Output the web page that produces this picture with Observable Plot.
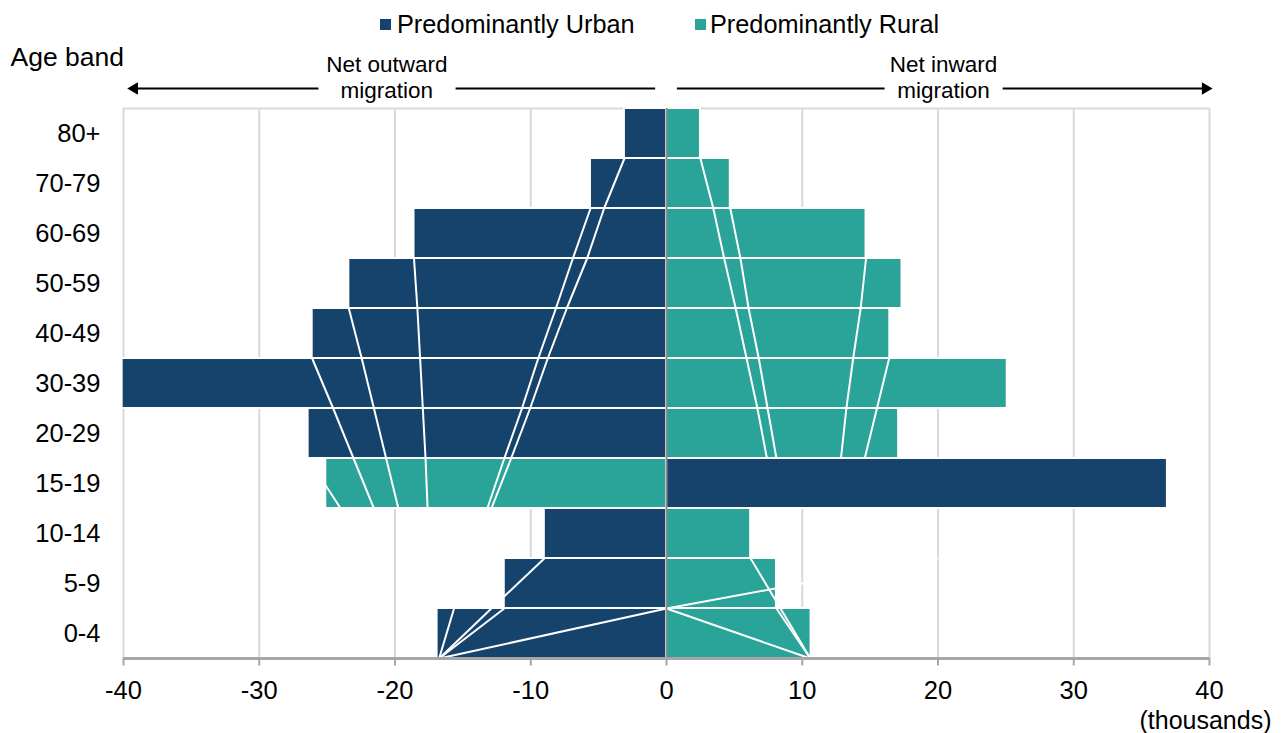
<!DOCTYPE html>
<html>
<head>
<meta charset="utf-8">
<script src="https://cdn.jsdelivr.net/npm/d3@7"></script>
<script src="https://cdn.jsdelivr.net/npm/@observablehq/plot@0.6"></script>
<style>
  html, body { margin: 0; padding: 0; background: #ffffff; }
  #wrap { width: 1282px; font-family: "Liberation Sans", Arial, sans-serif; color: #000; }
  #legend { position: relative; height: 48px; font-size: 25.3px; }
  #legend .sw { position: absolute; top: 19px; width: 11px; height: 11px; }
  #legend .lt { position: absolute; top: 10px; line-height: 28px; white-space: nowrap; }
  svg { display: block; }
</style>
</head>
<body>
<div id="wrap">
  <div id="legend"></div>
  <div id="chart"></div>
</div>
<script>
// ---- data (thousands, net migration) ----
const ageBands = ["80+", "70-79", "60-69", "50-59", "40-49", "30-39", "20-29", "15-19", "10-14", "5-9", "0-4"];
const urbanNet = [-3.1, -5.6, -18.6, -23.4, -26.1, -40.1, -26.4, 36.9, -9.0, -11.95, -16.9];
const ruralNet = [2.5, 4.7, 14.7, 17.35, 16.45, 25.1, 17.1, -25.1, 6.2, 8.1, 10.65];
const xTicks = [-40, -30, -20, -10, 0, 10, 20, 30, 40];
const seriesNames = ["Predominantly Urban", "Predominantly Rural"];
const seriesColors = ["#15436c", "#2aa398"];

// series lines (start boundary index, values at consecutive band boundaries)
const seriesLinesOut = [
  [1, [-3.1, -4.6, -5.85, -7.35, -8.75, -10.05, -11.45, -12.9]],
  [2, [-5.6, -6.9, -8.15, -9.45, -10.65, -11.95, -13.2]],
  [3, [-18.6, -18.35, -18.15, -17.95, -17.75, -17.6]],
  [4, [-23.4, -22.45, -21.55, -20.65, -19.75]],
  [5, [-26.1, -24.55, -23.05, -21.55]],
  [7, [-26.4, -24.0]],
  [9, [-9.0, -12.9, -16.75]],
  [10, [-11.95, -16.75]],
  [10, [-15.65, -16.75]],
  [10, [0, -16.75]]
];
const seriesLinesIn = [
  [1, [2.5, 3.45, 4.25, 5.1, 5.9, 6.7, 7.4]],
  [2, [4.7, 5.45, 6.05, 6.8, 7.45, 8.1]],
  [3, [14.7, 14.3, 13.75, 13.25, 12.85]],
  [4, [17.35, 16.4, 15.5, 14.6]],
  [9, [6.2, 8.4, 10.6]],
  [10, [8.1, 10.6]],
  [10, [0, 10.6]],
  [9, [20, 0]]
];

// annotation arrows
const outwardLabel = "Net outward\nmigration";
const inwardLabel = "Net inward\nmigration";

// ---- build tables ----
const rows = ageBands.map((band, i) => ({band, i, urban: urbanNet[i], rural: ruralNet[i]}));
function toSegments(lines) {
  const out = [];
  for (const [start, vals] of lines) {
    for (let k = 0; k < vals.length - 1; k++) {
      out.push({x1: vals[k], y1: start + k, x2: vals[k + 1], y2: start + k + 1});
    }
  }
  return out;
}
const segments = toSegments(seriesLinesOut).concat(toSegments(seriesLinesIn));

// ---- legend ----
const legend = document.getElementById("legend");
const legendPos = [[380, 397], [695, 710]];
seriesNames.forEach((name, k) => {
  const sw = document.createElement("span");
  sw.className = "sw";
  sw.style.left = legendPos[k][0] + "px";
  sw.style.background = seriesColors[k];
  legend.appendChild(sw);
  const t = document.createElement("span");
  t.className = "lt";
  t.style.left = legendPos[k][1] + "px";
  t.textContent = name;
  legend.appendChild(t);
});

// ---- chart ----
const arrowY = -0.4;
const chart = Plot.plot({
  width: 1282,
  height: 685,
  marginLeft: 123,
  marginRight: 73,
  marginTop: 60,
  marginBottom: 75,
  x: {domain: [-40, 40], axis: null},
  y: {domain: [11, 0], axis: null},
  style: {fontFamily: "'Liberation Sans', Arial, sans-serif", fontSize: "25.5px", color: "#000", background: "#fff", overflow: "visible"},
  marks: [
    // gridlines and top border
    Plot.ruleX(xTicks, {x: d => d, y1: 0, y2: 11, stroke: "#d9d9d9", strokeWidth: 2, strokeOpacity: 1}),
    Plot.ruleY([0], {x1: -40, x2: 40, stroke: "#d9d9d9", strokeWidth: 2, strokeOpacity: 1}),
    // bars
    Plot.rect(rows, {x1: 0, x2: "urban", y1: "i", y2: d => d.i + 1, fill: seriesColors[0], stroke: "#ffffff", strokeWidth: 2}),
    Plot.rect(rows, {x1: 0, x2: "rural", y1: "i", y2: d => d.i + 1, fill: seriesColors[1], stroke: "#ffffff", strokeWidth: 2}),
    // series lines
    Plot.link(segments, {x1: "x1", y1: "y1", x2: "x2", y2: "y2", stroke: "#ffffff", strokeWidth: 2, strokeOpacity: 1}),
    // zero line
    Plot.ruleX([0], {x: d => d, y1: 0, y2: 11, stroke: "#8c8c8c", strokeWidth: 2, strokeOpacity: 1}),
    // x axis line + ticks
    Plot.ruleY([11], {x1: -40, x2: 40, stroke: "#a6a6a6", strokeWidth: 3, strokeOpacity: 1}),
    Plot.ruleX(xTicks, {x: d => d, y1: 11, y2: 11.15, stroke: "#a6a6a6", strokeWidth: 2, strokeOpacity: 1}),
    Plot.text(xTicks, {x: d => d, y: 11, dy: 32, text: d => String(d), fill: "#000"}),
    Plot.text(["(thousands)"], {x: 40, y: 11, dx: 62, dy: 62, text: d => d, textAnchor: "end", fontSize: 25, fill: "#000"}),
    // y labels
    Plot.text(rows, {x: -40, y: d => d.i + 0.5, dx: -23, text: "band", textAnchor: "end", fill: "#000"}),
    Plot.text(["Age band"], {x: -40, y: -1.02, dx: -113, text: d => d, textAnchor: "start", fontSize: 26.5, fill: "#000"}),
    // direction annotations
    Plot.ruleY([arrowY], {x1: -39.3, x2: -25.6, stroke: "#000", strokeWidth: 2}),
    Plot.ruleY([arrowY], {x1: -15.5, x2: -0.8, stroke: "#000", strokeWidth: 2}),
    Plot.ruleY([arrowY], {x1: 0.8, x2: 16.1, stroke: "#000", strokeWidth: 2}),
    Plot.ruleY([arrowY], {x1: 24.8, x2: 39.8, stroke: "#000", strokeWidth: 2}),
    Plot.dot([{x: -39.2, r: -90}, {x: 39.7, r: 90}], {x: "x", y: arrowY, symbol: "triangle", r: 4.6, rotate: "r", fill: "#000", stroke: "none"}),
    Plot.text([outwardLabel], {x: -20.6, y: -0.64, text: d => d, fontSize: 22.5, lineHeight: 1.15, fill: "#000"}),
    Plot.text([inwardLabel], {x: 20.4, y: -0.64, text: d => d, fontSize: 22.5, lineHeight: 1.15, fill: "#000"})
  ]
});
document.getElementById("chart").appendChild(chart);
</script>
</body>
</html>
